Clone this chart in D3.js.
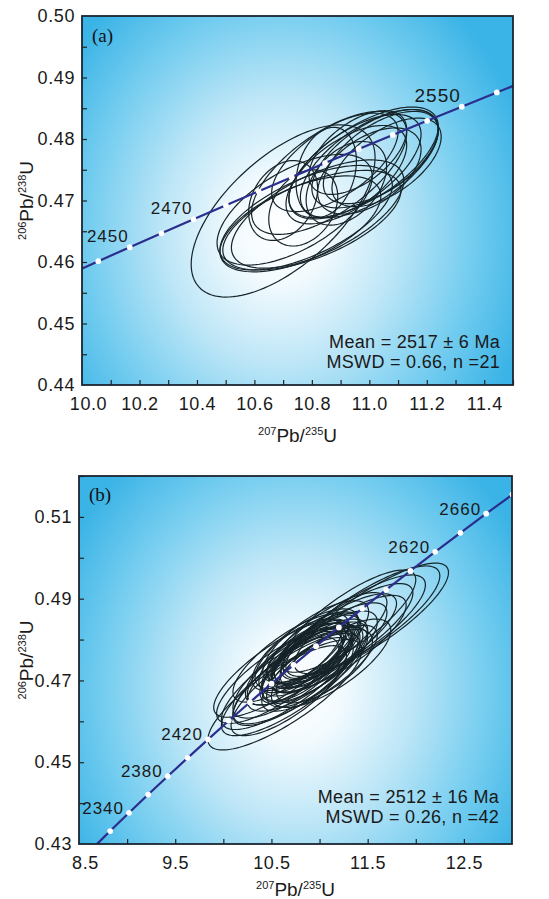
<!DOCTYPE html>
<html>
<head>
<meta charset="utf-8">
<script src="https://cdn.jsdelivr.net/npm/d3@7"></script>
<style>
  body { margin: 0; background: #fff; }
  svg { display: block; font-family: Arial, 'Liberation Sans', sans-serif; }
</style>
</head>
<body>
<svg id="chart" width="549" height="899"></svg>
<script>
// ---- panel (a) data ----
const agesA = [2430, 2440, 2450, 2460, 2470, 2480, 2490, 2500, 2510, 2520, 2530, 2540, 2550, 2560, 2570]
const pb207A = [9.9483, 10.0567, 10.1661, 10.2766, 10.3882, 10.5009, 10.6148, 10.7297, 10.8458, 10.9631, 11.0815, 11.201, 11.3218, 11.4437, 11.5669]
const pb206A = [0.45784, 0.46013, 0.4624, 0.46467, 0.46694, 0.46922, 0.4715, 0.47379, 0.47608, 0.47837, 0.48066, 0.48296, 0.48526, 0.48757, 0.48988]
const labelAgesA = [2450, 2470, 2550]
const xTicksA = [10.0, 10.2, 10.4, 10.6, 10.8, 11.0, 11.2, 11.4]
const yTicksA = [0.44, 0.45, 0.46, 0.47, 0.48, 0.49, 0.5]
// ellipse: [207Pb/235U, 206Pb/238U, half-width x, half-height y, rho]
const ellipsesA = [
  [10.80, 0.4668, 0.31, 0.0081, 0.60],
  [10.78, 0.4672, 0.30, 0.0085, 0.62],
  [10.76, 0.4662, 0.28, 0.0078, 0.58],
  [10.82, 0.4678, 0.30, 0.0088, 0.62],
  [10.74, 0.4685, 0.27, 0.0090, 0.60],
  [10.70, 0.4683, 0.32, 0.0140, 0.62],
  [10.77, 0.4688, 0.12, 0.0062, 0.30],
  [10.85, 0.4746, 0.105, 0.0073, 0.25],
  [10.70, 0.4700, 0.12, 0.0065, 0.30],
  [10.92, 0.4728, 0.14, 0.0068, 0.40],
  [10.98, 0.4762, 0.26, 0.0090, 0.65],
  [11.00, 0.4760, 0.24, 0.0088, 0.62],
  [11.02, 0.4768, 0.22, 0.0080, 0.60],
  [10.95, 0.4755, 0.23, 0.0085, 0.62],
  [11.04, 0.4770, 0.20, 0.0075, 0.58],
  [10.92, 0.4742, 0.21, 0.0080, 0.60],
  [11.00, 0.4748, 0.18, 0.0070, 0.50],
  [10.86, 0.4745, 0.27, 0.0100, 0.65],
  [10.96, 0.4778, 0.17, 0.0068, 0.55],
  [10.88, 0.4762, 0.22, 0.0080, 0.62],
  [11.06, 0.4762, 0.19, 0.0072, 0.58]
]
const statsA = ['Mean = 2517 ± 6 Ma', 'MSWD = 0.66, n =21']

// ---- panel (b) data ----
const agesB = [2300, 2320, 2340, 2360, 2380, 2400, 2420, 2440, 2460, 2480, 2500, 2520, 2540, 2560, 2580, 2600, 2620, 2640, 2660, 2680]
const pb207B = [8.6326, 8.8242, 9.0197, 9.219, 9.4223, 9.6296, 9.841, 10.0567, 10.2766, 10.5009, 10.7297, 10.9631, 11.201, 11.4437, 11.6912, 11.9437, 12.2011, 12.4638, 12.7316, 13.0047]
const pb206B = [0.42873, 0.43317, 0.43763, 0.44209, 0.44657, 0.45107, 0.45558, 0.46013, 0.46467, 0.46922, 0.47379, 0.47837, 0.48296, 0.48757, 0.49216, 0.49679, 0.50145, 0.50611, 0.51079, 0.51548]
const labelAgesB = [2340, 2380, 2420, 2620, 2660]
const xTicksB = [8.5, 9.5, 10.5, 11.5, 12.5]
const yTicksB = [0.43, 0.45, 0.47, 0.49, 0.51]
const ellipsesB = [
  [10.64, 0.4665, 0.80, 0.0135, 0.81],
  [10.70, 0.4690, 0.72, 0.0125, 0.80],
  [10.66, 0.4700, 0.68, 0.0120, 0.79],
  [10.75, 0.4705, 0.65, 0.0115, 0.78],
  [10.72, 0.4720, 0.62, 0.0112, 0.77],
  [10.80, 0.4712, 0.70, 0.0118, 0.79],
  [10.85, 0.4730, 0.60, 0.0105, 0.76],
  [10.78, 0.4740, 0.55, 0.0100, 0.73],
  [10.90, 0.4738, 0.52, 0.0095, 0.71],
  [10.88, 0.4752, 0.48, 0.0090, 0.70],
  [10.95, 0.4745, 0.55, 0.0098, 0.73],
  [10.82, 0.4755, 0.45, 0.0085, 0.68],
  [10.92, 0.4765, 0.42, 0.0082, 0.66],
  [11.00, 0.4760, 0.50, 0.0090, 0.71],
  [10.98, 0.4775, 0.45, 0.0085, 0.68],
  [11.05, 0.4770, 0.55, 0.0100, 0.73],
  [10.86, 0.4745, 0.38, 0.0075, 0.62],
  [10.95, 0.4755, 0.36, 0.0072, 0.60],
  [10.80, 0.4728, 0.40, 0.0078, 0.64],
  [11.02, 0.4785, 0.40, 0.0080, 0.66],
  [10.90, 0.4720, 0.45, 0.0085, 0.68],
  [10.75, 0.4735, 0.50, 0.0095, 0.72],
  [11.10, 0.4785, 0.60, 0.0105, 0.77],
  [11.15, 0.4800, 0.65, 0.0112, 0.79],
  [11.20, 0.4790, 0.70, 0.0118, 0.80],
  [11.25, 0.4815, 0.72, 0.0122, 0.81],
  [11.35, 0.4830, 0.75, 0.0128, 0.81],
  [11.45, 0.4845, 0.80, 0.0135, 0.82],
  [11.54, 0.4852, 0.80, 0.0135, 0.83],
  [11.30, 0.4845, 0.70, 0.0125, 0.81],
  [11.08, 0.4805, 0.62, 0.0110, 0.78],
  [10.96, 0.4795, 0.55, 0.0100, 0.73],
  [10.85, 0.4775, 0.55, 0.0100, 0.73],
  [10.70, 0.4755, 0.60, 0.0108, 0.77],
  [10.60, 0.4730, 0.70, 0.0120, 0.80],
  [10.58, 0.4710, 0.65, 0.0115, 0.79],
  [10.68, 0.4675, 0.60, 0.0110, 0.77],
  [11.00, 0.4730, 0.60, 0.0105, 0.77],
  [11.12, 0.4742, 0.62, 0.0108, 0.75],
  [10.93, 0.4780, 0.48, 0.0088, 0.70],
  [11.05, 0.4735, 0.50, 0.0090, 0.68],
  [10.78, 0.4765, 0.45, 0.0085, 0.68]
]
const statsB = ['Mean = 2512 ± 16 Ma', 'MSWD = 0.26, n =42']

const svg = d3.select('#chart')
const defs = svg.append('defs')

function ellipsePoints(e) {
  const [cx, cy, sx, sy, rho] = e
  const k = Math.sqrt(1 - rho * rho)
  return d3.range(0, 120).map((i) => {
    const t = (i / 120) * 2 * Math.PI
    return [cx + sx * Math.cos(t), cy + sy * (rho * Math.cos(t) + k * Math.sin(t))]
  })
}

function addTitle(g, x, y, sup1, mid, sup2, end, rotate) {
  const t = g.append('text')
    .attr('transform', `translate(${x},${y})` + (rotate ? ' rotate(-90)' : ''))
    .attr('text-anchor', 'middle')
    .attr('fill', '#1a1a1a')
  t.append('tspan').attr('font-size', 11).attr('dy', -7).text(sup1)
  t.append('tspan').attr('font-size', 19).attr('dy', 7).text(mid)
  t.append('tspan').attr('font-size', 11).attr('dy', -7).text(sup2)
  t.append('tspan').attr('font-size', 19).attr('dy', 7).text(end)
}

function drawPanel(cfg) {
  const { id, left, top, width, height, xDomain, yDomain } = cfg
  const x = d3.scaleLinear().domain(xDomain).range([0, width])
  const y = d3.scaleLinear().domain(yDomain).range([height, 0])

  const [gx, gy] = cfg.gc
  const grad = defs.append('radialGradient')
    .attr('id', `bg-${id}`)
    .attr('cx', gx).attr('cy', gy).attr('r', 0.6)
    .attr('gradientTransform', `translate(${gx},${gy}) scale(1,1.35) translate(${-gx},${-gy})`)
  grad.selectAll('stop')
    .data([[0, '#ffffff'], [0.18, '#f2fafe'], [0.45, '#bde6f7'], [0.75, '#72ccef'], [1, '#3ab3e6']])
    .join('stop')
    .attr('offset', (d) => d[0])
    .attr('stop-color', (d) => d[1])

  defs.append('clipPath').attr('id', `clip-${id}`)
    .append('rect').attr('width', width).attr('height', height)

  const g = svg.append('g').attr('transform', `translate(${left},${top})`)
  g.append('rect').attr('width', width).attr('height', height).attr('fill', `url(#bg-${id})`)

  const plot = g.append('g').attr('clip-path', `url(#clip-${id})`)

  const ellipseLine = d3.line().x((d) => x(d[0])).y((d) => y(d[1])).curve(d3.curveLinearClosed)
  plot.selectAll('path.ellipse')
    .data(cfg.ellipses)
    .join('path')
    .attr('class', 'ellipse')
    .attr('d', (d) => ellipseLine(ellipsePoints(d)))
    .attr('fill', 'none')
    .attr('stroke', '#16242a')
    .attr('stroke-width', 1.2)

  const conc = cfg.ages.map((a, i) => ({ age: a, x: cfg.pb207[i], y: cfg.pb206[i] }))
  plot.append('path')
    .attr('d', d3.line().x((d) => x(d.x)).y((d) => y(d.y)).curve(d3.curveCatmullRom)(conc))
    .attr('fill', 'none')
    .attr('stroke', '#2b2e8e')
    .attr('stroke-width', 2.2)
  plot.selectAll('circle')
    .data(conc)
    .join('circle')
    .attr('cx', (d) => x(d.x))
    .attr('cy', (d) => y(d.y))
    .attr('r', 2.9)
    .attr('fill', '#fff')

  g.selectAll('text.age')
    .data(conc.filter((d) => cfg.labelAges.includes(d.age)))
    .join('text')
    .attr('class', 'age')
    .attr('x', (d) => x(d.x) + cfg.labelOffset[0])
    .attr('y', (d) => y(d.y) + cfg.labelOffset[1])
    .attr('text-anchor', 'end')
    .attr('font-size', (d) => (d.age === 2550 ? 19 : 17))
    .attr('letter-spacing', 1)
    .attr('fill', '#1a1a1a')
    .text((d) => d.age)

  // axes: inward ticks
  const xa = g.append('g').attr('transform', `translate(0,${height})`)
    .call(d3.axisBottom(x).tickValues(cfg.xMinor).tickSize(-5).tickFormat(''))
  const ya = g.append('g')
    .call(d3.axisLeft(y).tickValues(cfg.yMinor).tickSize(-5).tickFormat(''))
  ;[xa, ya].forEach((a) => {
    a.select('.domain').remove()
    a.selectAll('line').attr('stroke', '#222').attr('stroke-width', 1.2)
  })

  const xl = g.append('g').attr('transform', `translate(0,${height})`)
    .call(d3.axisBottom(x).tickValues(cfg.xTicks).tickSize(0).tickPadding(12).tickFormat(d3.format('.1f')))
  xl.selectAll('text').filter((d, i) => i === 0).attr('dx', 6)
  const yl = g.append('g')
    .call(d3.axisLeft(y).tickValues(cfg.yTicks).tickSize(0).tickPadding(7).tickFormat(d3.format('.2f')))
  ;[xl, yl].forEach((a) => {
    a.select('.domain').remove()
    a.selectAll('text')
      .attr('font-size', 18)
      .attr('letter-spacing', 0.6)
      .attr('font-family', 'Arial, Liberation Sans, sans-serif')
      .attr('fill', '#1a1a1a')
  })

  g.append('rect').attr('width', width).attr('height', height)
    .attr('fill', 'none').attr('stroke', '#1b2430').attr('stroke-width', 1.8)

  g.append('text')
    .attr('x', 10).attr('y', cfg.tagY)
    .attr('font-family', 'Times New Roman, Liberation Serif, serif')
    .attr('font-size', 19)
    .attr('fill', '#111')
    .text(cfg.tag)

  g.selectAll('text.stat')
    .data(cfg.stats)
    .join('text')
    .attr('class', 'stat')
    .attr('x', width - 13)
    .attr('y', (d, i) => cfg.statY + i * 20)
    .attr('text-anchor', 'end')
    .attr('font-size', 18)
    .attr('letter-spacing', 0.3)
    .attr('fill', '#1a1a1a')
    .text((d) => d)

  addTitle(g, width / 2, height + cfg.xTitleDy, '207', 'Pb/', '235', 'U', false)
  addTitle(g, -left + 33, height / 2, '206', 'Pb/', '238', 'U', true)
}

drawPanel({
  id: 'a', left: 82, top: 16, width: 431, height: 369,
  xDomain: [10.0, 11.5], yDomain: [0.44, 0.5],
  gc: [0.46, 0.58],
  ages: agesA, pb207: pb207A, pb206: pb206A, labelAges: labelAgesA, labelOffset: [-1, -5],
  ellipses: ellipsesA,
  xTicks: xTicksA, yTicks: yTicksA,
  xMinor: d3.range(10.1, 11.5, 0.1), yMinor: d3.range(0.445, 0.5, 0.005),
  tag: '(a)', tagY: 26, stats: statsA, statY: 332, xTitleDy: 57
})

drawPanel({
  id: 'b', left: 79, top: 476, width: 433, height: 368,
  xDomain: [8.5, 13.0], yDomain: [0.43, 0.52],
  gc: [0.5, 0.58],
  ages: agesB, pb207: pb207B, pb206: pb206B, labelAges: labelAgesB, labelOffset: [-5, 1],
  ellipses: ellipsesB,
  xTicks: xTicksB, yTicks: yTicksB,
  xMinor: d3.range(9.0, 13.0, 0.5), yMinor: d3.range(0.44, 0.52, 0.01),
  tag: '(b)', tagY: 25, stats: statsB, statY: 327, xTitleDy: 52
})
</script>
</body>
</html>
